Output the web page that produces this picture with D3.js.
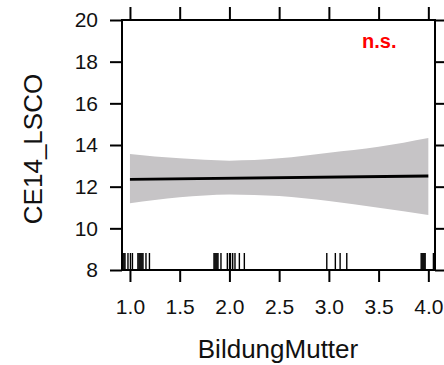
<!DOCTYPE html>
<html>
<head>
<meta charset="utf-8">
<script src="https://cdn.jsdelivr.net/npm/d3@7"></script>
<style>
  html, body { margin: 0; padding: 0; background: #fff; }
  svg { display: block; font-family: "Liberation Sans", Arial, sans-serif; }
</style>
</head>
<body>
<svg id="chart" width="444" height="365"></svg>
<script>
// Fitted effect of mother's education on CE14_LSCO
const fitX = [1.0, 4.0];
const fitY = [12.35, 12.51];

// Confidence band
const bandX = [1.0, 1.5, 2.0, 2.5, 3.0, 3.5, 4.0];
const bandLower = [11.20, 11.49, 11.63, 11.55, 11.31, 10.99, 10.64];
const bandUpper = [13.57, 13.36, 13.25, 13.36, 13.63, 13.92, 14.34];

// Observed (jittered) values of BildungMutter for the rug
const rugValues = [
  0.920, 0.930, 0.940, 0.950, 0.980, 1.005, 1.025, 1.080, 1.091, 1.101, 1.111, 1.121, 1.131, 1.161, 1.196,
  1.845, 1.855, 1.865, 1.875, 1.885, 1.915, 1.979, 2.001, 2.011, 2.033, 2.056, 2.100, 2.150,
  2.979, 3.065, 3.113, 3.180,
  3.928, 3.938, 3.948, 3.958, 3.968, 4.051
];

const xTicks = [1.0, 1.5, 2.0, 2.5, 3.0, 3.5, 4.0];
const yTicks = [8, 10, 12, 14, 16, 18, 20];
const xTitle = "BildungMutter";
const yTitle = "CE14_LSCO";
const sigLabel = "n.s.";

const svg = d3.select("#chart");
const panel = { left: 122, right: 435, top: 20, bottom: 270 };

const x = d3.scaleLinear().domain([0.92, 4.067]).range([panel.left, panel.right]);
const y = d3.scaleLinear().domain([8, 20]).range([panel.bottom, panel.top]);

// band
const band = bandX.map((v, i) => ({ x: v, lo: bandLower[i], hi: bandUpper[i] }));
svg.append("path")
  .datum(band)
  .attr("fill", "#c6c4c6")
  .attr("d", d3.area()
    .curve(d3.curveMonotoneX)
    .x(d => x(d.x))
    .y0(d => y(d.lo))
    .y1(d => y(d.hi)));

// fitted line
svg.append("path")
  .datum(fitX.map((v, i) => [v, fitY[i]]))
  .attr("fill", "none")
  .attr("stroke", "#000")
  .attr("stroke-width", 3)
  .attr("d", d3.line().x(d => x(d[0])).y(d => y(d[1])));

// rug
svg.append("g")
  .selectAll("line")
  .data(rugValues)
  .join("line")
  .attr("x1", d => x(d)).attr("x2", d => x(d))
  .attr("y1", panel.bottom).attr("y2", panel.bottom - 17)
  .attr("stroke", "#000")
  .attr("stroke-width", 1.4);

// axes on all four sides
function styleAxis(g) {
  g.select(".domain").remove();
  g.selectAll(".tick line").attr("stroke", "#000").attr("stroke-width", 2);
  g.selectAll(".tick text").attr("fill", "#111").attr("font-size", 21)
    .attr("font-family", "Liberation Sans, Arial, sans-serif");
}

svg.append("g")
  .attr("transform", `translate(0,${panel.bottom})`)
  .call(d3.axisBottom(x).tickValues(xTicks).tickFormat(d3.format(".1f")).tickSize(12).tickPadding(17))
  .call(styleAxis);

svg.append("g")
  .attr("transform", `translate(0,${panel.top})`)
  .call(d3.axisTop(x).tickValues(xTicks).tickFormat("").tickSize(13))
  .call(styleAxis);

svg.append("g")
  .attr("transform", `translate(${panel.left},0)`)
  .call(d3.axisLeft(y).tickValues(yTicks).tickSize(12).tickPadding(12))
  .call(styleAxis);

svg.append("g")
  .attr("transform", `translate(${panel.right},0)`)
  .call(d3.axisRight(y).tickValues(yTicks).tickFormat("").tickSize(12))
  .call(styleAxis);

// panel frame
svg.append("rect")
  .attr("x", panel.left).attr("y", panel.top)
  .attr("width", panel.right - panel.left).attr("height", panel.bottom - panel.top)
  .attr("fill", "none").attr("stroke", "#000").attr("stroke-width", 2);

// significance label
svg.append("text")
  .attr("x", 362).attr("y", 48)
  .attr("fill", "#ff0000")
  .attr("font-weight", "bold")
  .attr("font-size", 20)
  .text(sigLabel);

// axis titles
svg.append("text")
  .attr("x", 278).attr("y", 358)
  .attr("text-anchor", "middle")
  .attr("font-size", 26)
  .attr("fill", "#111")
  .text(xTitle);

svg.append("text")
  .attr("transform", "translate(42,149) rotate(-90)")
  .attr("text-anchor", "middle")
  .attr("font-size", 26)
  .attr("fill", "#111")
  .text(yTitle);
</script>
</body>
</html>
